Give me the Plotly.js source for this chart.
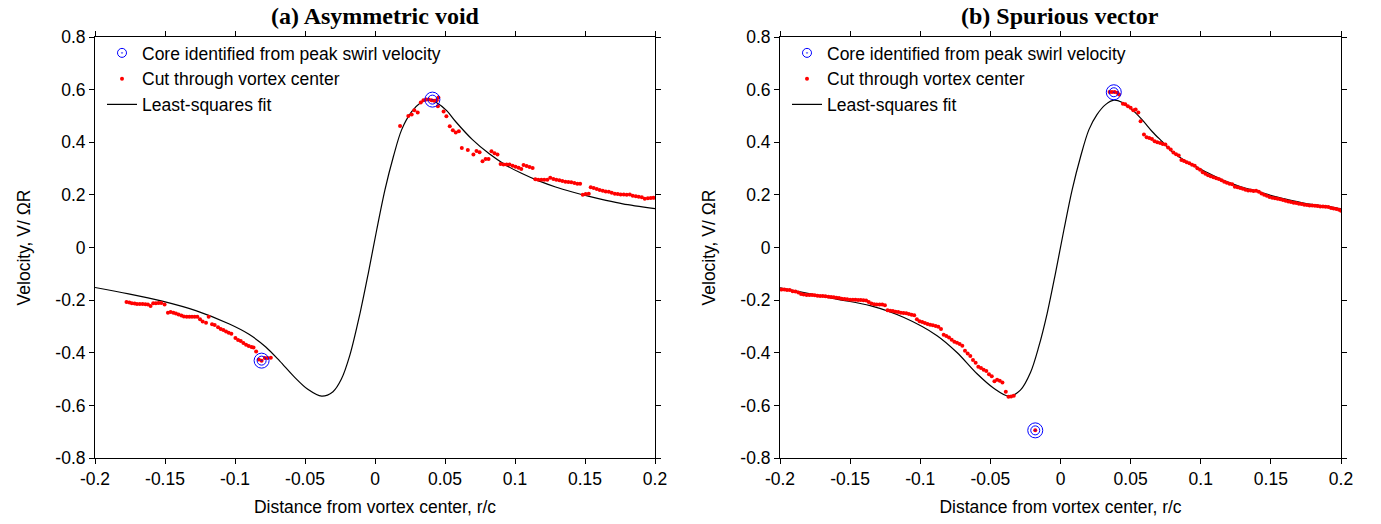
<!DOCTYPE html>
<html>
<head>
<meta charset="utf-8">
<script src="https://cdn.plot.ly/plotly-3.0.1.min.js"></script>
<style>html,body{margin:0;padding:0;background:#fff;}#chart{width:1381px;height:524px;}</style>
</head>
<body>
<div id="chart"></div>
<script>
// ---------- Tick labels ----------
const xTickVals = [-0.2, -0.15, -0.1, -0.05, 0, 0.05, 0.1, 0.15, 0.2];
const xTickText = ["-0.2", "-0.15", "-0.1", "-0.05", "0", "0.05", "0.1", "0.15", "0.2"];
const yTickVals = [-0.8, -0.6, -0.4, -0.2, 0, 0.2, 0.4, 0.6, 0.8];
const yTickText = ["-0.8", "-0.6", "-0.4", "-0.2", "0", "0.2", "0.4", "0.6", "0.8"];

const titleA = "(a) Asymmetric void";
const titleB = "(b) Spurious vector";
const xTitle = "Distance from vortex center, r/c";
const yTitle = "Velocity, V/ \u03A9R";
const nameCore = "Core identified from peak swirl velocity";
const nameCut = "Cut through vortex center";
const nameFit = "Least-squares fit";

// ---------- (a) Asymmetric void ----------
const leftFitX = [-0.200, -0.176, -0.152, -0.128, -0.104, -0.090, -0.078, -0.068, -0.058, -0.048, -0.0381, -0.030, -0.024, -0.018, -0.0107, -0.0048, 0.0012, 0.0071, 0.0131, 0.0190, 0.0262, 0.0321, 0.0381, 0.0441, 0.0512, 0.0577, 0.0696, 0.0816, 0.0935, 0.105, 0.117, 0.129, 0.141, 0.153, 0.165, 0.177, 0.200];
const leftFitY = [-0.152, -0.176, -0.204, -0.240, -0.291, -0.330, -0.378, -0.432, -0.490, -0.539, -0.565, -0.548, -0.500, -0.410, -0.250, -0.098, 0.0665, 0.219, 0.345, 0.447, 0.516, 0.548, 0.562, 0.550, 0.520, 0.478, 0.410, 0.356, 0.313, 0.281, 0.253, 0.230, 0.211, 0.194, 0.179, 0.166, 0.148];

const leftCutX = [-0.1775, -0.1755, -0.1737, -0.1717, -0.1700, -0.1680, -0.1660, -0.1640, -0.1622, -0.1603, -0.1584, -0.1565, -0.1546, -0.1527, -0.1503, -0.1479, -0.1460, -0.1440, -0.1422, -0.1403, -0.1383, -0.1365, -0.1345, -0.1326, -0.1307, -0.1288, -0.1269, -0.1250, -0.1231, -0.1207, -0.1188, -0.1164, -0.1145, -0.1121, -0.1102, -0.1083, -0.1064, -0.1045, -0.1026, -0.0997, -0.0978, -0.0959, -0.0940, -0.0921, -0.0902, -0.0882, -0.0868, -0.0849, -0.0830, -0.0810, -0.0787, -0.0768, -0.0744,
  0.0179, 0.0238, 0.0262, 0.0281, 0.0305, 0.0327, 0.0346, 0.0365, 0.0384, 0.0403, 0.0422, 0.0441, 0.0453, 0.0449, 0.0490, 0.0510, 0.0534, 0.0556, 0.0577, 0.0599, 0.0620, 0.0663, 0.0703, 0.0725, 0.0747, 0.0768, 0.0790, 0.0811, 0.0832, 0.0854, 0.0875, 0.0897,
  0.0918, 0.0940, 0.0961, 0.0983, 0.1004, 0.1026, 0.1045, 0.1061, 0.1083, 0.1104, 0.1126, 0.1145, 0.1166, 0.1188, 0.1209, 0.1231,
  0.1252, 0.1274, 0.1295, 0.1317, 0.1338, 0.1360, 0.1381, 0.1402, 0.1424, 0.1445, 0.1465, 0.1484, 0.1505, 0.1527,
  0.1541, 0.1562, 0.1584, 0.1605, 0.1627, 0.1648, 0.1670, 0.1691, 0.1713, 0.1734, 0.1755, 0.1777, 0.1798, 0.1820, 0.1841, 0.1863, 0.1884, 0.1906, 0.1927, 0.1949, 0.1970, 0.1989];
const leftCutY = [-0.207, -0.2095, -0.212, -0.213, -0.2146, -0.2146, -0.2146, -0.216, -0.217, -0.222, -0.212, -0.212, -0.211, -0.211, -0.217, -0.248, -0.245, -0.248, -0.251, -0.255, -0.258, -0.262, -0.263, -0.263, -0.263, -0.263, -0.263, -0.273, -0.281, -0.286, -0.263, -0.292, -0.2946, -0.3035, -0.310, -0.3136, -0.319, -0.324, -0.3276, -0.344, -0.3516, -0.3555, -0.363, -0.3695, -0.3745, -0.378, -0.380, -0.395, -0.4255, -0.4305, -0.420, -0.420, -0.419,
  0.462, 0.500, 0.505, 0.522, 0.513, 0.551, 0.560, 0.5625, 0.5625, 0.560, 0.5575, 0.560, 0.570, 0.537, 0.517, 0.499, 0.461, 0.446, 0.437, 0.442, 0.378, 0.371, 0.353, 0.367, 0.362, 0.328, 0.336, 0.336, 0.366, 0.358, 0.353, 0.317,
  0.315, 0.315, 0.315, 0.311, 0.307, 0.3035, 0.2984, 0.3137, 0.3098, 0.306, 0.3022, 0.2591, 0.2578, 0.2578, 0.2578, 0.2578,
  0.2654, 0.2603, 0.2578, 0.2553, 0.2527, 0.2502, 0.2489, 0.2476, 0.2451, 0.2425, 0.2425, 0.2006, 0.2032, 0.2044,
  0.2286, 0.2260, 0.2222, 0.2184, 0.2159, 0.2133, 0.2121, 0.2083, 0.2044, 0.2032, 0.2019, 0.2019, 0.2006, 0.2019, 0.1968, 0.1943, 0.1930, 0.1905, 0.1854, 0.1867, 0.1879, 0.1892];

const leftCoreX = [-0.081, 0.041];
const leftCoreY = [-0.430, 0.562];

// ---------- (b) Spurious vector ----------
const rightFitX = [-0.200, -0.1595, -0.1357, -0.112, -0.088, -0.0738, -0.0595, -0.0476, -0.0369, -0.0286, -0.0214, -0.0155, -0.0095, -0.0036, 0.0024, 0.0083, 0.0143, 0.0202, 0.026, 0.0321, 0.0381, 0.0441, 0.0512, 0.0583, 0.0655, 0.0726, 0.0798, 0.0869, 0.094, 0.1024, 0.1167, 0.1286, 0.1405, 0.1524, 0.1643, 0.1762, 0.1881, 0.200];
const rightFitY = [-0.153, -0.196, -0.221, -0.265, -0.335, -0.399, -0.480, -0.535, -0.565, -0.542, -0.475, -0.377, -0.250, -0.098, 0.0665, 0.219, 0.345, 0.447, 0.505, 0.543, 0.560, 0.551, 0.523, 0.485, 0.440, 0.402, 0.364, 0.336, 0.314, 0.291, 0.254, 0.231, 0.213, 0.194, 0.179, 0.166, 0.158, 0.147];

const rightCutX = [-0.1988, -0.1969, -0.1950, -0.1931, -0.1910, -0.1890, -0.1869, -0.1850, -0.1831, -0.1810, -0.1790, -0.1771, -0.1752, -0.1733, -0.1714, -0.1695, -0.1676, -0.1655, -0.1636, -0.1617, -0.1598, -0.1579, -0.1560, -0.1540, -0.1521, -0.1500, -0.1481, -0.1462, -0.1443, -0.1424, -0.1405, -0.1386, -0.1367, -0.1348, -0.1329, -0.1310, -0.1290, -0.1271, -0.1252, -0.1233, -0.1214, -0.1195, -0.1176, -0.1157, -0.1138, -0.1119, -0.1100, -0.1081, -0.1062, -0.1043, -0.1024, -0.1005, -0.0986, -0.0967, -0.0948, -0.0929, -0.0910, -0.0890, -0.0871, -0.0852, -0.0833, -0.0814, -0.0795, -0.0776, -0.0757, -0.0738, -0.0719, -0.0700, -0.0681, -0.0662, -0.0643, -0.0624, -0.0605, -0.0586, -0.0567, -0.0548, -0.0529, -0.0510, -0.0490, -0.0471, -0.0452, -0.0433, -0.0414, -0.0390, -0.0371, -0.0352, -0.0333,
  -0.018,
  0.0350, 0.0367, 0.0386, 0.0405, 0.0417, 0.0445, 0.0462, 0.0481, 0.0500, 0.0519, 0.0536, 0.0555, 0.0571, 0.0595, 0.0614, 0.0633, 0.0652, 0.0671, 0.0690, 0.0710, 0.0729, 0.0748, 0.0767, 0.0786, 0.0805, 0.0824, 0.0843, 0.0862, 0.0881, 0.0900, 0.0919, 0.0938, 0.0957, 0.0976, 0.0995, 0.1014, 0.1033, 0.1052, 0.1071, 0.1090, 0.1110, 0.1129, 0.1148, 0.1167, 0.1186, 0.1205, 0.1224, 0.1243, 0.1262, 0.1281, 0.1300, 0.1319, 0.1338, 0.1357, 0.1376, 0.1395, 0.1414, 0.1433, 0.1452, 0.1471, 0.1490, 0.1510, 0.1529, 0.1548, 0.1567, 0.1586, 0.1605, 0.1624, 0.1643, 0.1662, 0.1681, 0.1700, 0.1719, 0.1738, 0.1757, 0.1776, 0.1795, 0.1814, 0.1833, 0.1852, 0.1871, 0.1890, 0.1910, 0.1929, 0.1948, 0.1967, 0.1986, 0.2000];
const rightCutY = [-0.1600, -0.1600, -0.1613, -0.1613, -0.1664, -0.1676, -0.1714, -0.1765, -0.1790, -0.1803, -0.1803, -0.1803, -0.1816, -0.1829, -0.1841, -0.1841, -0.1854, -0.1867, -0.1879, -0.1892, -0.1905, -0.1917, -0.1943, -0.1956, -0.1968, -0.1981, -0.1981, -0.1981, -0.1994, -0.1994, -0.2006, -0.2019, -0.2070, -0.2133, -0.2159, -0.2171, -0.2171, -0.2171, -0.2197, -0.2387, -0.2400, -0.2413, -0.2438, -0.2451, -0.2476, -0.2489, -0.2502, -0.2527, -0.2552, -0.2578, -0.2730, -0.2806, -0.2832, -0.2870, -0.2908, -0.2933, -0.2959, -0.2984, -0.3010, -0.3098, -0.3314, -0.3365, -0.3416, -0.3505, -0.3581, -0.3619, -0.3670, -0.3733, -0.3924, -0.4025, -0.4127, -0.4279, -0.4381, -0.4533, -0.4584, -0.4648, -0.4698, -0.4813, -0.4889, -0.5079, -0.5029, -0.5067, -0.5130, -0.5486, -0.5676, -0.5663, -0.5638,
  -0.695,
  0.5905, 0.5905, 0.5905, 0.5880, 0.5816, 0.5460, 0.5448, 0.5371, 0.5308, 0.5219, 0.5245, 0.5130, 0.4800, 0.4292, 0.4191, 0.4165, 0.4127, 0.4038, 0.4000, 0.3975, 0.3937, 0.3911, 0.3797, 0.3721, 0.3606, 0.3543, 0.3492, 0.3327, 0.3289, 0.3238, 0.3200, 0.3149, 0.3111, 0.3010, 0.2959, 0.2857, 0.2806, 0.2743, 0.2705, 0.2667, 0.2629, 0.2603, 0.2552, 0.2502, 0.2463, 0.2425, 0.2400, 0.2311, 0.2286, 0.2260, 0.2235, 0.2197, 0.2171, 0.2171, 0.2146, 0.2159, 0.2121, 0.2057, 0.2006, 0.1968, 0.1917, 0.1892, 0.1867, 0.1854, 0.1829, 0.1803, 0.1778, 0.1752, 0.1727, 0.1702, 0.1689, 0.1664, 0.1651, 0.1625, 0.1613, 0.1600, 0.1600, 0.1587, 0.1575, 0.1562, 0.1562, 0.1549, 0.1537, 0.1498, 0.1486, 0.1460, 0.1435, 0.1397];

const rightCoreX = [-0.018, 0.038];
const rightCoreY = [-0.695, 0.590];

// ---------- Traces ----------
function panel(fitX, fitY, cutX, cutY, coreX, coreY, xa, ya, leg) {
  return [
    {type: "scatter", mode: "lines", x: fitX, y: fitY, xaxis: xa, yaxis: ya, legend: leg,
     name: nameFit, line: {color: "#000", width: 1.2, shape: "spline", smoothing: 0.9}},
    {type: "scatter", mode: "markers", x: cutX, y: cutY, xaxis: xa, yaxis: ya, legend: leg,
     name: nameCut, marker: {color: "#ff0000", size: 4, symbol: "circle", line: {width: 0}}},
    {type: "scatter", mode: "markers", x: coreX, y: coreY, xaxis: xa, yaxis: ya, legend: leg,
     name: "outer", showlegend: false, hoverinfo: "skip",
     marker: {color: "#0000ff", size: 15, symbol: "circle-open", line: {color: "#0000ff", width: 1}}},
    {type: "scatter", mode: "markers", x: coreX, y: coreY, xaxis: xa, yaxis: ya, legend: leg,
     name: nameCore, marker: {color: "#0000ff", size: 9, symbol: "circle-open-dot", line: {color: "#0000ff", width: 1}}}
  ];
}

const data = [].concat(
  panel(leftFitX, leftFitY, leftCutX, leftCutY, leftCoreX, leftCoreY, "x", "y", "legend"),
  panel(rightFitX, rightFitY, rightCutX, rightCutY, rightCoreX, rightCoreY, "x2", "y2", "legend2")
);

const W = 1381, H = 524;
const tickFont = {family: "Liberation Sans, Arial, sans-serif", size: 17.5, color: "#000"};

function xAxis(domain, anchor) {
  return {
    domain: domain, anchor: anchor, range: [-0.2, 0.2],
    tickmode: "array", tickvals: xTickVals, ticktext: xTickText,
    ticks: "outside", ticklen: 5, tickwidth: 1, tickcolor: "#000",
    showline: true, linecolor: "#000", linewidth: 1, mirror: "ticks",
    showgrid: false, zeroline: false, automargin: false,
    tickfont: tickFont,
    title: {text: xTitle, font: tickFont, standoff: 12}
  };
}
function yAxis(anchor) {
  return {
    domain: [1 - 458 / H, 1 - 37 / H], anchor: anchor, range: [-0.8, 0.8],
    tickmode: "array", tickvals: yTickVals, ticktext: yTickText,
    ticks: "outside", ticklen: 5, tickwidth: 1, tickcolor: "#000",
    showline: true, linecolor: "#000", linewidth: 1, mirror: "ticks",
    showgrid: false, zeroline: false, automargin: false,
    tickfont: tickFont,
    title: {text: yTitle, font: tickFont, standoff: 20}
  };
}

const legendBase = {
  bgcolor: "rgba(0,0,0,0)", borderwidth: 0, font: tickFont,
  xanchor: "left", yanchor: "top", traceorder: "reversed", itemwidth: 30
};

const layout = {
  width: W, height: H,
  margin: {l: 0, r: 0, t: 0, b: 0},
  paper_bgcolor: "#fff", plot_bgcolor: "#fff",
  showlegend: true,
  xaxis: xAxis([95 / W, 655 / W], "y"),
  yaxis: yAxis("x"),
  xaxis2: xAxis([780 / W, 1341 / W], "y2"),
  yaxis2: yAxis("x2"),
  legend: Object.assign({}, legendBase, {x: 102 / W, y: 1 - 35 / H}),
  legend2: Object.assign({}, legendBase, {x: 787 / W, y: 1 - 35 / H}),
  annotations: [
    {text: "<b>" + titleA + "</b>", xref: "paper", yref: "paper", x: 375 / W, y: 1 - 16 / H,
     xanchor: "center", yanchor: "middle", showarrow: false,
     font: {family: "Liberation Serif, Times New Roman, serif", size: 24, color: "#000"}},
    {text: "<b>" + titleB + "</b>", xref: "paper", yref: "paper", x: 1060 / W, y: 1 - 16 / H,
     xanchor: "center", yanchor: "middle", showarrow: false,
     font: {family: "Liberation Serif, Times New Roman, serif", size: 24, color: "#000"}}
  ]
};

Plotly.newPlot("chart", data, layout, {displayModeBar: false, staticPlot: true});
</script>
</body>
</html>
